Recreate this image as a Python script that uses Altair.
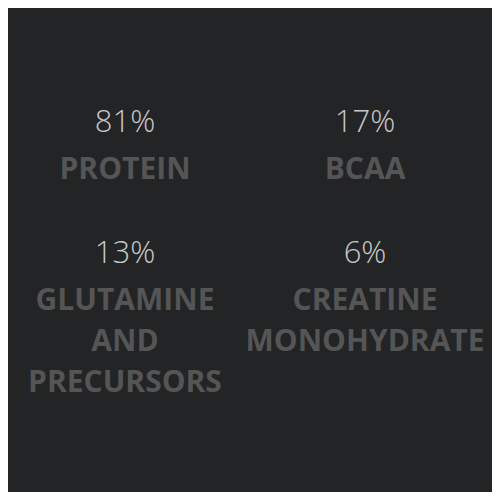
import altair as alt
import pandas as pd

percents = ["81%", "17%", "13%", "6%"]
labels = [["PROTEIN"], ["BCAA"], ["GLUTAMINE", "AND", "PRECURSORS"], ["CREATINE", "MONOHYDRATE"]]
cols = [0, 1, 0, 1]
rows = [0, 0, 1, 1]

df = pd.DataFrame({"pct": percents, "label": labels, "col": cols, "row": rows})

BG = "#232426"

x = alt.X("col:Q", scale=alt.Scale(domain=[-0.4875, 1.529]), axis=None)
y = alt.Y("row:Q", scale=alt.Scale(domain=[-0.94, 2.738], reverse=True), axis=None)

base = alt.Chart(df).encode(x=x, y=y)

pct = base.mark_text(
    font="Open Sans", fontSize=31, fontWeight=300, color="#c9c9c9",
    baseline="alphabetic", align="center"
).encode(text="pct:N")

lab = base.mark_text(
    font="Open Sans", fontSize=30, fontWeight=700, color="#555555",
    baseline="alphabetic", align="center", dy=47, lineHeight=41
).encode(text="label")

chart = alt.layer(pct, lab).properties(
    width=484, height=484, background=BG, padding=0,
    autosize=alt.AutoSizeParams(type="none")
).configure_view(stroke=None)

chart.save("out.html", embed_options={"renderer": "svg", "actions": False})
